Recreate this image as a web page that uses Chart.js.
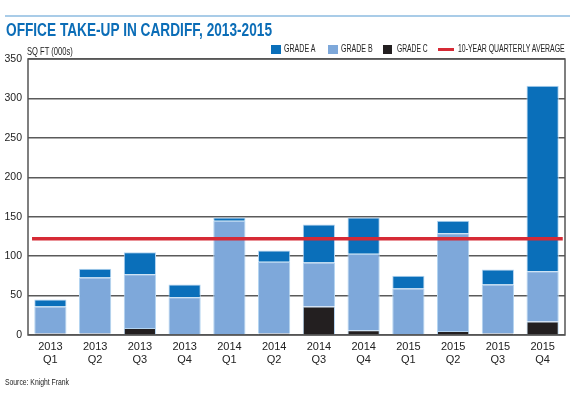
<!DOCTYPE html>
<html>
<head>
<meta charset="utf-8">
<script src="https://cdn.jsdelivr.net/npm/chart.js@4/dist/chart.umd.min.js"></script>
<style>
  html, body { margin:0; padding:0; background:#fff; }
  #wrap { position:relative; width:570px; height:395px; overflow:hidden; font-family:'Liberation Sans',Arial,sans-serif; }
  canvas { position:absolute; left:0; top:0; }
  #rule { position:absolute; left:5px; top:15px; width:565px; height:2px; background:#a9cce8; }
  .t { position:absolute; display:inline-block; white-space:nowrap; transform-origin:0 0; }
  #title { left:5.7px; top:20px; font-size:19px; line-height:19px; font-weight:bold; color:#0b6db7; }
  #unit { left:27.3px; top:45.7px; font-size:11px; line-height:11px; color:#222; }
  #source { left:5px; top:378px; font-size:9px; line-height:9px; color:#222; }
  .lg { top:42.8px; font-size:11.5px; line-height:11px; color:#222; }
  .sw { position:absolute; top:45px; width:9.5px; height:8.5px; }
  .ln { position:absolute; top:47.5px; width:16px; height:3px; background:#d62a35; }
</style>
</head>
<body>
<div id="wrap">
  <canvas id="c" width="570" height="395"></canvas>
  <div id="rule"></div>
  <div id="title" class="t" data-w="266">OFFICE TAKE-UP IN CARDIFF, 2013-2015</div>
  <div id="unit" class="t" data-w="45.7">SQ FT (000s)</div>
  <div class="sw" style="left:271px;background:#0a6fba"></div>
  <div class="t lg" style="left:284.3px" data-w="31.4">GRADE A</div>
  <div class="sw" style="left:328.3px;background:#7ea8da"></div>
  <div class="t lg" style="left:341px" data-w="31.7">GRADE B</div>
  <div class="sw" style="left:382.7px;background:#231f20"></div>
  <div class="t lg" style="left:397px" data-w="30.7">GRADE C</div>
  <div class="ln" style="left:438.3px"></div>
  <div class="t lg" style="left:458.3px" data-w="106.7">10-YEAR QUARTERLY AVERAGE</div>
  <div id="source" class="t" data-w="64">Source: Knight Frank</div>
</div>
<script>
const categories = [['2013','Q1'],['2013','Q2'],['2013','Q3'],['2013','Q4'],
                    ['2014','Q1'],['2014','Q2'],['2014','Q3'],['2014','Q4'],
                    ['2015','Q1'],['2015','Q2'],['2015','Q3'],['2015','Q4']];
const gradeA = [9, 11, 28, 16, 4, 14, 48, 46, 16, 16, 19, 235];
const gradeB = [34, 71, 68, 48, 145, 91, 56, 97, 58, 124, 62, 64];
const gradeC = [2, 2, 9, 0, 0, 2, 36, 6, 1, 5, 2, 17];
const tenYearAverage = 122;
const averageSpan = [-0.41, 11.45];
const yTicks = [0, 50, 100, 150, 200, 250, 300, 350];

// condense the HTML text to the narrow face of the original
document.querySelectorAll('.t').forEach(el => {
  const w = el.getBoundingClientRect().width;
  const target = parseFloat(el.dataset.w);
  el.style.transform = 'scaleX(' + (target / w) + ')';
});

const FONT = "'Liberation Sans',Arial,sans-serif";

const frame = {
  id: 'frame',
  beforeDatasetsDraw(chart) {
    const a = chart.chartArea, ctx = chart.ctx;
    ctx.save();
    ctx.strokeStyle = '#555';
    ctx.lineWidth = 1.5;
    ctx.strokeRect(a.left, a.top, a.right - a.left, a.bottom - a.top);
    ctx.restore();
  }
};

const barOpts = { borderColor:'#b3d4f1', borderWidth:1, order:1, stack:'s', grouped:false, barPercentage:0.72, categoryPercentage:1 };

new Chart(document.getElementById('c'), {
  data: {
    labels: categories,
    datasets: [
      Object.assign({ type:'bar', label:'GRADE C', data: gradeC, backgroundColor:'#231f20' }, barOpts),
      Object.assign({ type:'bar', label:'GRADE B', data: gradeB, backgroundColor:'#7ea8da' }, barOpts),
      Object.assign({ type:'bar', label:'GRADE A', data: gradeA, backgroundColor:'#0a6fba' }, barOpts),
      { type:'line', label:'10-YEAR QUARTERLY AVERAGE', xAxisID:'xAvg',
        data: averageSpan.map(x => ({x: x, y: tenYearAverage})),
        borderColor:'#d62a35', backgroundColor:'#d62a35', borderWidth:3.5, pointRadius:0, order:0 }
    ]
  },
  options: {
    responsive:false,
    devicePixelRatio:1,
    animation:false,
    layout: { padding: { top:59, left:5, right:5, bottom:28 } },
    plugins: {
      tooltip: { enabled:false },
      legend: { display:false }
    },
    scales: {
      x: {
        stacked:true,
        offset:true,
        grid: { display:false, drawTicks:false },
        border: { display:false },
        ticks: { font: { family: FONT, size: 11 }, color:'#222', padding:5, maxRotation:0, autoSkip:false },
        afterFit(s) { s.height = 32; }
      },
      xAvg: { type:'linear', display:false, min:-0.5, max:11.5 },
      y: {
        stacked:true,
        min:0, max:350,
        afterBuildTicks(s) { s.ticks = yTicks.map(v => ({value:v})); },
        grid: { color:'#5a5a5a', lineWidth:1.5, drawTicks:false },
        border: { display:false },
        ticks: { font: { family: FONT, size: 10.5 }, color:'#222', padding:6 },
        afterFit(s) { s.width = 23; }
      }
    }
  },
  plugins: [frame]
});
</script>
</body>
</html>
